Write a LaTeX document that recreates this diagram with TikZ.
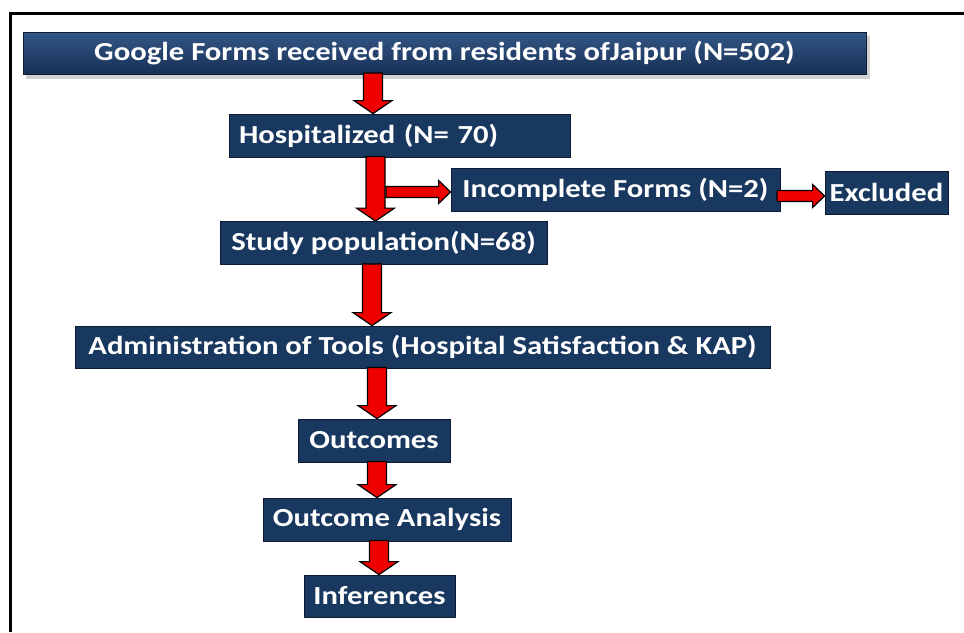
\documentclass[tikz,border=0pt]{standalone}
\usepackage{fontspec}
\setmainfont{Carlito}[FakeStretch=1.18]
\usetikzlibrary{calc}
\definecolor{navy}{RGB}{25,56,96}
\definecolor{navyline}{RGB}{12,28,52}
\definecolor{navytop}{RGB}{52,86,132}
\definecolor{navybot}{RGB}{22,48,86}
\definecolor{arrowred}{RGB}{238,0,0}
\newcommand{\boxfont}{\fontsize{26}{30}\selectfont\bfseries}
\newcommand{\varrow}[2]{%
  \draw[fatarrow] let \p1=(#1), \p2=(#2) in
    (\x1-9.5pt,\y1) -- (\x1-9.5pt,\y2+13pt) -- (\x1-19pt,\y2+13pt) -- (\x1,\y2)
    -- (\x1+19pt,\y2+13pt) -- (\x1+9.5pt,\y2+13pt) -- (\x1+9.5pt,\y1) -- cycle;}
\newcommand{\harrow}[2]{%
  \draw[fatarrow] let \p1=(#1), \p2=(#2) in
    (\x1,\y1+5.5pt) -- (\x2-12pt,\y1+5.5pt) -- (\x2-12pt,\y1+11.5pt) -- (\x2,\y1)
    -- (\x2-12pt,\y1-11.5pt) -- (\x2-12pt,\y1-5.5pt) -- (\x1,\y1-5.5pt) -- cycle;}
\begin{document}
\begin{tikzpicture}[x=1pt,y=-1pt,
  flowbox/.style={draw=navyline, fill=navy, line width=0.8pt, text=white,
    font=\boxfont, inner sep=0pt, minimum height=43pt},
  fatarrow/.style={fill=arrowred, draw=black, line width=1.2pt, line join=miter},
  frameline/.style={line width=3pt, black}]
\useasboundingbox (0,0) rectangle (964,632);
\fill[white] (0,0) rectangle (964,632);
% frame
\draw[frameline] (10.5,632) -- (10.5,13.5) -- (964,13.5);
% shadow of top box
\fill[black!18] (26,36) rectangle (870,79);
% nodes
\node[flowbox, top color=navytop, bottom color=navybot, minimum width=843pt, minimum height=42pt] (top) at (444.5,53.5) {Google Forms received from residents ofJaipur (N=502)};
\node[flowbox, text width=321pt, inner xsep=10pt, align=left] (hosp) at (399.5,135.5) {Hospitalized (N= 70)};
\node[flowbox, minimum width=329pt] (inc) at (615.5,189.5) {Incomplete Forms (N=2)};
\node[flowbox, minimum width=123pt] (exc) at (886.5,192.5) {Excluded};
\node[flowbox, minimum width=327pt] (study) at (383.5,243) {Study population(N=68)};
\node[flowbox, minimum width=695pt, minimum height=42pt] (admin) at (422.5,347) {Administration of Tools (Hospital Satisfaction \& KAP)};
\node[flowbox, minimum width=152pt] (outc) at (374,440.5) {Outcomes};
\node[flowbox, minimum width=248pt] (oa) at (387,519.5) {Outcome Analysis};
\node[flowbox, minimum width=151pt, minimum height=42pt] (inf) at (379.5,596) {Inferences};
% arrow axes
\coordinate (a1) at (373,0);
\coordinate (a2) at (375.5,0);
\coordinate (a3) at (372,0);
\coordinate (a4) at (377,0);
\coordinate (a5) at (377,0);
\coordinate (a6) at (379,0);
\coordinate (h1) at (386,192);
\coordinate (h2) at (777,196);
% connectors
\varrow{$(top.south -| a1)+(0,2pt)$}{hosp.north -| a1}
\varrow{$(hosp.south -| a2)+(0,1pt)$}{study.north -| a2}
\harrow{h1}{inc.west |- h1}
\harrow{h2}{exc.west |- h2}
\varrow{$(study.south -| a3)+(0,1pt)$}{admin.north -| a3}
\varrow{$(admin.south -| a4)+(0,1pt)$}{outc.north -| a4}
\varrow{$(outc.south -| a5)+(0,1pt)$}{oa.north -| a5}
\varrow{$(oa.south -| a6)+(0,1pt)$}{inf.north -| a6}
\end{tikzpicture}
\end{document}
